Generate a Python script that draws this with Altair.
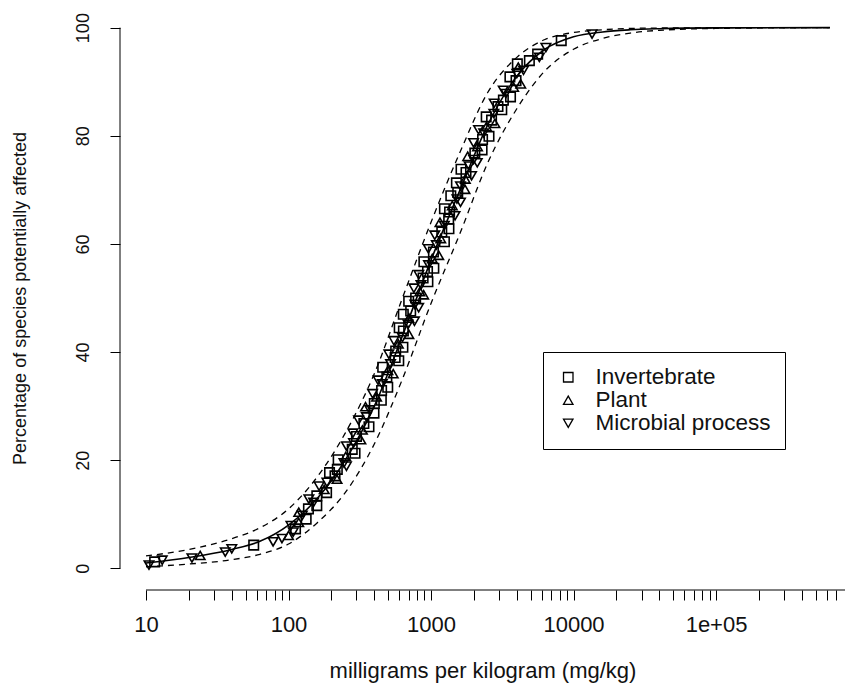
import altair as alt
import pandas as pd

# ---------------- data ----------------
# toxicity values (mg/kg), plotting percentage, group code
pt_conc = [10.5, 11.5, 13, 21, 24, 36, 40, 57, 78, 90, 100, 108,
           112, 118, 125, 138, 150, 158, 178, 186, 212, 220, 245, 252,
           280, 286, 300, 330, 338, 352, 372, 400, 415, 450, 455, 490,
           498, 520, 560, 565, 590, 630, 640, 690, 700, 720, 770, 780,
           835, 850, 880, 945, 960, 1020, 1040, 1090, 1170, 1190, 1240, 1330,
           1350, 1410, 1520, 1540, 1610, 1740, 1760, 1850, 1990, 2030, 2120, 2300,
           2340, 2450, 2660, 2760, 2950, 3220, 3350, 3800, 3950, 4000, 4100, 4900,
           5600, 6400, 8200, 13500]
pt_pct = [0.6, 1.2, 1.5, 1.9, 2.4, 3.0, 3.6, 4.3, 4.9, 5.5, 6.1, 6.7,
          7.3, 8.5, 9.8, 11.0, 12.2, 13.4, 14.6, 15.9, 17.1, 18.3, 19.5, 20.7,
          22.0, 23.2, 24.4, 25.6, 26.8, 28.0, 29.3, 30.5, 31.7, 32.9, 34.1, 35.4,
          36.6, 37.8, 39.0, 40.2, 41.5, 42.7, 43.9, 45.1, 46.3, 47.6, 48.8, 50.0,
          51.2, 52.4, 53.7, 54.9, 56.1, 57.3, 58.5, 59.8, 61.0, 62.2, 63.4, 64.6,
          65.9, 67.1, 68.3, 69.5, 70.7, 72.0, 73.2, 74.4, 75.6, 76.8, 78.0, 79.3,
          80.5, 81.7, 82.9, 84.1, 85.4, 86.6, 87.8, 89.0, 90.2, 91.5, 92.7, 93.9,
          95.1, 96.3, 97.6, 98.8]
pt_codes = ("MIMMPMMIMMPM"
            "IPMIMIPMII" "MPIMIPIMMI" "PIMIPMIIPM" "IMPIMIPMII"
            "MPIMPIMIIP" "MIMPIMMIPI" "MPIMIIMPIM" "PIIMIM")

# more points packed in the dense middle of the distribution
pt2_conc = [104, 133, 118, 158, 139, 185, 164, 219, 194, 255,
            223, 293, 255, 322, 283, 367, 310, 398, 347, 448,
            389, 497, 425, 543, 458, 594, 506, 635, 549, 699,
            598, 765, 639, 819, 697, 888, 758, 951, 821, 1047,
            891, 1133, 958, 1242, 1062, 1336, 1156, 1474, 1242, 1610,
            1377, 1732, 1507, 1925, 1624, 2111, 1809, 2282, 1987, 2552,
            2155, 2808, 2439, 3138, 2774, 3613, 3211, 4262, 3578, 4455,
            4034, 5762]
pt2_pct = [7.9, 9.1, 10.4, 11.6, 12.8, 14.0, 15.2, 16.5, 17.7, 18.9,
           20.1, 21.3, 22.6, 23.8, 25.0, 26.2, 27.4, 28.7, 29.9, 31.1,
           32.3, 33.5, 34.8, 36.0, 37.2, 38.4, 39.6, 40.9, 42.1, 43.3,
           44.5, 45.7, 47.0, 48.2, 49.4, 50.6, 51.8, 53.0, 54.3, 55.5,
           56.7, 57.9, 59.1, 60.4, 61.6, 62.8, 64.0, 65.2, 66.5, 67.7,
           68.9, 70.1, 71.3, 72.6, 73.8, 75.0, 76.2, 77.4, 78.7, 79.9,
           81.1, 82.3, 83.5, 84.8, 86.0, 87.2, 88.4, 89.6, 90.9, 92.1,
           93.3, 94.5]
pt2_codes = ("MIPIMIMPIM" "IIMPMIMIPI" "MIMPIIMIMP" "IMIMIPMIMI"
             "IPMIMIPMIM" "IPIMIMPIMI" "MPIIMIMPIM" "IM")

group_names = {"I": "Invertebrate", "P": "Plant", "M": "Microbial process"}
group_order = ["Invertebrate", "Plant", "Microbial process"]
group_shapes = ["square", "triangle-up", "triangle-down"]

# fitted distribution and its confidence limits
curve_conc = [10, 20, 40, 63, 100, 160, 250, 400, 630, 1000, 1600, 2500,
              4000, 6300, 10000, 16000, 25000, 40000, 100000, 630000]
fit_pct = [1.0, 2.0, 3.5, 5.0, 8.0, 13.0, 20.0, 30.0, 43.0, 57.0, 70.0, 82.0,
           91.0, 96.0, 98.3, 99.2, 99.6, 99.8, 99.95, 100.0]
upper_pct = [2.3, 3.5, 5.5, 7.5, 11.0, 17.0, 25.0, 36.0, 50.0, 64.0, 77.0, 88.0,
             94.5, 97.8, 99.1, 99.6, 99.85, 99.93, 99.98, 100.0]
lower_pct = [0.3, 0.8, 1.6, 2.6, 4.5, 8.5, 14.0, 23.0, 35.0, 49.0, 62.0, 75.0,
             85.0, 92.0, 96.0, 98.0, 99.0, 99.5, 99.85, 100.0]

x_ticks = [10, 20, 30, 40, 50, 60, 70, 80, 90,
           100, 200, 300, 400, 500, 600, 700, 800, 900,
           1000, 2000, 3000, 4000, 5000, 6000, 7000, 8000, 9000,
           10000, 20000, 30000, 40000, 50000, 60000, 70000, 80000, 90000,
           100000, 200000, 300000, 400000, 500000, 600000, 700000, 800000]
y_ticks = [0, 20, 40, 60, 80, 100]
x_domain = [6.57, 803526]
y_domain = [-4, 104]

# ---------------- tables ----------------
assert len(pt_conc) == len(pt_pct) == len(pt_codes)
assert len(pt2_conc) == len(pt2_pct) == len(pt2_codes)
points = pd.DataFrame({"conc": pt_conc + pt2_conc, "pct": pt_pct + pt2_pct,
                       "group": [group_names[c] for c in pt_codes + pt2_codes]})
fit = pd.DataFrame({"conc": curve_conc, "pct": fit_pct})
bands = pd.concat([
    pd.DataFrame({"conc": curve_conc, "pct": upper_pct, "band": "upper"}),
    pd.DataFrame({"conc": curve_conc, "pct": lower_pct, "band": "lower"}),
])

FONT = "Liberation Sans"
xs = alt.Scale(type="log", domain=x_domain, nice=False)
ys = alt.Scale(domain=y_domain, nice=False, zero=False)

x_axis = alt.Axis(values=x_ticks, domain=False, grid=False, tickSize=10,
                  tickColor="black", tickWidth=1,
                  labelExpr="datum.value == 100000 ? '1e+05' : (indexof([10,100,1000,10000], datum.value) >= 0 ? format(datum.value, 'd') : '')",
                  labelOverlap=False, labelFlush=False, labelFont=FONT,
                  labelFontSize=22, labelColor="#111", labelPadding=14,
                  title="milligrams per kilogram (mg/kg)", titleFont=FONT,
                  titleFontSize=22, titleFontWeight="normal", titleColor="#111",
                  titleY=80, titleBaseline="middle")
y_axis = alt.Axis(values=y_ticks, domain=False, grid=False, tickSize=10,
                  tickColor="black", tickWidth=1, labelAngle=270,
                  labelAlign="center", labelBaseline="bottom", labelPadding=18,
                  labelFont=FONT, labelFontSize=18, labelColor="#111",
                  title="Percentage of species potentially affected",
                  titleFont=FONT, titleFontSize=18, titleFontWeight="normal",
                  titleColor="#111", titleAngle=270, titleX=-100, titleY=292,
                  titleAlign="center", titleBaseline="middle")

X = alt.X("conc:Q", scale=xs, axis=x_axis)
Y = alt.Y("pct:Q", scale=ys, axis=y_axis)

pts = alt.Chart(points).mark_point(filled=False, color="black", strokeWidth=1.6,
                                   size=90, opacity=1).encode(
    x=X, y=Y,
    shape=alt.Shape("group:N",
                    scale=alt.Scale(domain=group_order, range=group_shapes),
                    legend=alt.Legend(orient="none", legendX=423, legendY=346,
                                      title=None, strokeColor="black",
                                      fillColor="white", padding=14,
                                      labelFont=FONT, labelFontSize=22.5,
                                      labelColor="#111", labelOffset=16,
                                      labelLimit=400,
                                      symbolSize=90, symbolStrokeWidth=1.3,
                                      symbolStrokeColor="black",
                                      symbolFillColor="white", rowPadding=0)),
)

fit_line = alt.Chart(fit).mark_line(color="black", strokeWidth=1.6,
                                    interpolate="monotone").encode(x=X, y=Y)

band_lines = alt.Chart(bands).mark_line(color="black", strokeWidth=1.3,
                                        strokeDash=[6, 5],
                                        interpolate="monotone").encode(
    x=X, y=Y, detail="band:N")

# R-style axis lines spanning only the tick range
y_line = alt.Chart(pd.DataFrame({"conc": [x_domain[0]], "pct": [y_ticks[0]],
                                 "hi": [y_ticks[-1]]})).mark_rule(
    color="black", strokeWidth=1).encode(x=X, y=Y, y2="hi:Q")
x_line = alt.Chart(pd.DataFrame({"conc": [x_ticks[0]], "hi": [x_domain[1]],
                                 "pct": [y_domain[0]]})).mark_rule(
    color="black", strokeWidth=1).encode(x=X, x2="hi:Q", y=Y)

chart = alt.layer(pts, band_lines, fit_line, y_line, x_line).properties(
    width=725, height=584,
    padding={"left": 120, "top": 6, "right": 0, "bottom": 94},
    autosize=alt.AutoSizeParams(type="none"),
    background="white",
).configure_view(stroke=None)

chart.save("out.html", embed_options={"renderer": "svg", "actions": False})
